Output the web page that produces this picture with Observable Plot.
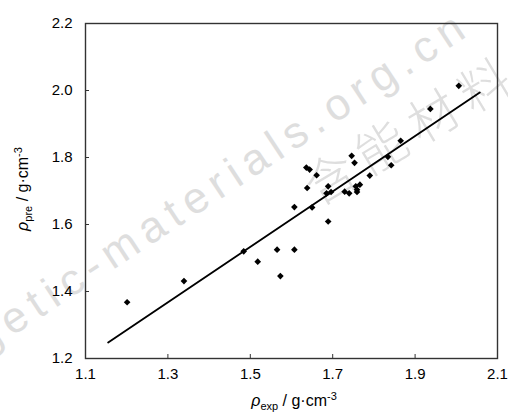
<!DOCTYPE html>
<html><head><meta charset="utf-8">
<script src="https://cdn.jsdelivr.net/npm/d3@7"></script>
<script src="https://cdn.jsdelivr.net/npm/@observablehq/plot@0.6"></script>
<style>
body{margin:0;background:#fff;}
#chart{width:508px;height:412px;overflow:hidden;}
</style>
</head><body><div id="chart"></div>
<script>
// experimental density (x) and predicted density (y), g·cm^-3
const expDensity = [1.201, 1.339, 1.484, 1.518, 1.565, 1.573, 1.607, 1.607, 1.636, 1.644, 1.661, 1.638, 1.650, 1.689, 1.689, 1.685, 1.696, 1.729, 1.740, 1.759, 1.759, 1.766, 1.756, 1.746, 1.753, 1.790, 1.834, 1.842, 1.865, 1.937, 2.006];
const preDensity = [1.368, 1.431, 1.520, 1.489, 1.525, 1.446, 1.525, 1.652, 1.770, 1.764, 1.747, 1.709, 1.651, 1.609, 1.714, 1.693, 1.697, 1.698, 1.693, 1.704, 1.697, 1.719, 1.714, 1.805, 1.784, 1.746, 1.802, 1.777, 1.850, 1.945, 2.014];
// fitted line end points
const fitX = [1.155, 2.057];
const fitY = [1.248, 1.994];
const xTicks = [1.1, 1.3, 1.5, 1.7, 1.9, 2.1];
const xTickLabels = ["1.1", "1.3", "1.5", "1.7", "1.9", "2.1"];
const yTicks = [1.2, 1.4, 1.6, 1.8, 2.0, 2.2];
const yTickLabels = ["1.2", "1.4", "1.6", "1.8", "2.0", "2.2"];

const points = expDensity.map((x, i) => ({x, y: preDensity[i]}));
const fit = fitX.map((x, i) => ({x, y: fitY[i]}));

const plot = Plot.plot({
  width: 508, height: 412,
  marginLeft: 85, marginRight: 11, marginTop: 23, marginBottom: 54,
  style: {fontFamily: "'Liberation Sans', Arial, sans-serif", fontSize: "15px", color: "#000", background: "transparent"},
  x: {domain: [1.1, 2.1]},
  y: {domain: [1.2, 2.2]},
  marks: [
    Plot.axisX({ticks: xTicks, tickFormat: d => xTickLabels[xTicks.indexOf(d)], tickSize: -4, tickPadding: 14, label: null, fontSize: 15, stroke: "#333"}),
    Plot.axisY({ticks: yTicks, tickFormat: d => yTickLabels[yTicks.indexOf(d)], tickSize: -4, tickPadding: 17, label: null, fontSize: 15, stroke: "#333"}),
    Plot.frame({stroke: "#333", strokeWidth: 1.4}),
    Plot.line(fit, {x: "x", y: "y", stroke: "#000", strokeWidth: 1.9}),
    Plot.dot(points, {x: "x", y: "y", symbol: "diamond2", fill: "#000", stroke: "none", r: 3})
  ]
});
document.getElementById("chart").appendChild(plot);

const svg = d3.select(plot);
// watermark (under everything)
const wm = svg.insert("g", ":first-child").attr("fill", "#dedede").attr("font-family", "'Liberation Sans', Arial, sans-serif");
wm.append("text").attr("transform", "translate(474,32) rotate(-33.4)").attr("text-anchor", "end")
  .attr("font-size", 44).attr("font-weight", 200).attr("letter-spacing", 7.5).text("energetic-materials.org.cn");
wm.append("text").attr("transform", "translate(412,130) rotate(-31)").attr("text-anchor", "middle")
  .attr("font-family", "'Noto Sans CJK SC', sans-serif").attr("font-weight", 200)
  .attr("font-size", 50).attr("letter-spacing", 10).attr("dy", "0.35em").text("含能材料");

// axis titles
const lab = svg.append("g").attr("font-family", "'Liberation Sans', Arial, sans-serif").attr("font-size", 16).attr("fill", "#000");
function title(t, sub) {
  t.append("tspan").attr("font-style", "italic").text("ρ");
  t.append("tspan").attr("font-size", 11).attr("dy", 4).text(sub);
  t.append("tspan").attr("dy", -4).text(" / g·cm");
  t.append("tspan").attr("font-size", 11).attr("dy", -6).text("-3");
}
title(lab.append("text").attr("x", 294).attr("y", 406).attr("text-anchor", "middle"), "exp");
title(lab.append("text").attr("transform", "translate(28,189) rotate(-90)").attr("text-anchor", "middle"), "pre");
</script>
</body></html>
